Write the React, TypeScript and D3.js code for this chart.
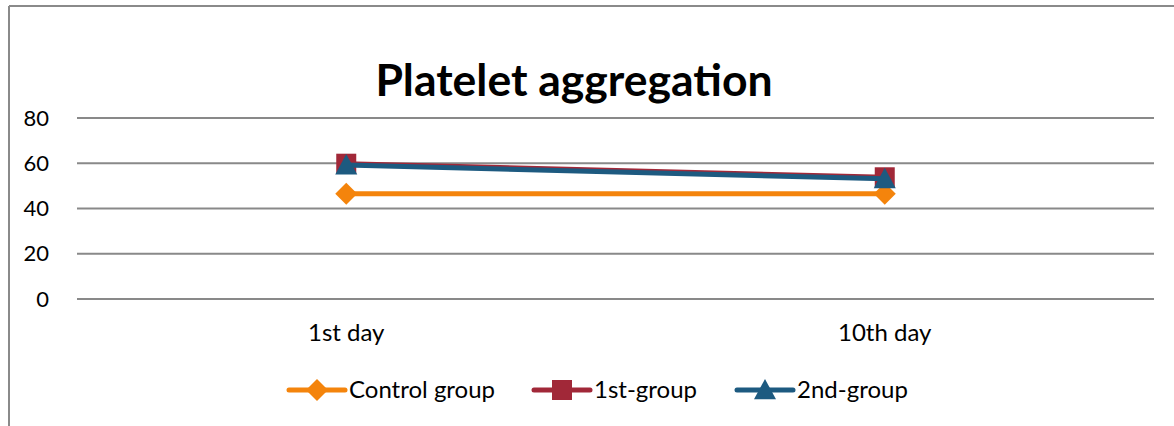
import React from "react";
import * as d3 from "d3";

const categories = ["1st day", "10th day"];
const controlGroup = [46.5, 46.5];
const group1 = [59.8, 53.8];
const group2 = [59.2, 53.1];
const yTicks = [0, 20, 40, 60, 80];
const seriesNames = ["Control group", "1st-group", "2nd-group"];

const W = 1174;
const H = 426;
const FONT = "Lato, 'Open Sans', sans-serif";
const colors = ["#F4840C", "#A12838", "#1D5A80"];

export default function App() {
  const x = d3.scaleBand<string>().domain(categories).range([77, 1154]);
  const y = d3.scaleLinear().domain([0, 80]).range([299, 118]);
  const series = [controlGroup, group1, group2];
  const line = d3
    .line<number>()
    .x((_, i) => (x(categories[i]) as number) + x.bandwidth() / 2)
    .y((d) => y(d));

  const marker = (k: number, cx: number, cy: number, key: string) => {
    if (k === 0) {
      const r = 11;
      return (
        <path
          key={key}
          d={`M${cx},${cy - r}L${cx + r},${cy}L${cx},${cy + r}L${cx - r},${cy}Z`}
          fill={colors[0]}
        />
      );
    }
    if (k === 1) {
      return <rect key={key} x={cx - 10} y={cy - 10} width={20} height={20} fill={colors[1]} />;
    }
    const s = 11;
    return (
      <path
        key={key}
        d={`M${cx},${cy - s}L${cx + s},${cy + s * 0.85}L${cx - s},${cy + s * 0.85}Z`}
        fill={colors[2]}
      />
    );
  };

  const legendItems = [
    { lx: 289, tx: 349 },
    { lx: 534, tx: 594 },
    { lx: 737, tx: 797 },
  ];
  const legendY = 390;

  return (
    <svg
      width={W}
      height={H}
      style={{ position: "absolute", left: 0, top: 0, background: "#fff" }}
    >
      <rect x={0} y={0} width={W} height={H} fill="#fff" />
      <line x1={9} y1={6} x2={W} y2={6} stroke="#8a8a8a" strokeWidth={2} />
      <line x1={9} y1={6} x2={9} y2={H} stroke="#8a8a8a" strokeWidth={2} />

      <text
        x={574}
        y={96}
        textAnchor="middle"
        fontFamily={FONT}
        fontWeight="bold"
        fontSize={44.5}
        fill="#000"
      >
        Platelet aggregation
      </text>

      {yTicks.map((t) => (
        <g key={t}>
          <line x1={77} x2={1154} y1={y(t)} y2={y(t)} stroke="#898989" strokeWidth={2} />
          <text
            x={49}
            y={y(t)}
            dy="0.35em"
            textAnchor="end"
            fontFamily={FONT}
            fontSize={22}
            fill="#000"
          >
            {t}
          </text>
        </g>
      ))}

      {categories.map((c) => (
        <text
          key={c}
          x={(x(c) as number) + x.bandwidth() / 2}
          y={333}
          dy="0.35em"
          textAnchor="middle"
          fontFamily={FONT}
          fontSize={24}
          fill="#000"
        >
          {c}
        </text>
      ))}

      {series.map((s, k) => (
        <g key={k}>
          <path d={line(s) || ""} fill="none" stroke={colors[k]} strokeWidth={5} />
          {s.map((v, i) =>
            marker(k, (x(categories[i]) as number) + x.bandwidth() / 2, y(v), `${k}-${i}`)
          )}
        </g>
      ))}

      {seriesNames.map((n, k) => {
        const it = legendItems[k];
        return (
          <g key={n}>
            <line
              x1={it.lx}
              x2={it.lx + 56}
              y1={legendY}
              y2={legendY}
              stroke={colors[k]}
              strokeWidth={5}
              strokeLinecap="round"
            />
            {marker(k, it.lx + 28, legendY, `l${k}`)}
            <text
              x={it.tx}
              y={legendY}
              dy="0.35em"
              fontFamily={FONT}
              fontSize={24}
              fill="#000"
            >
              {n}
            </text>
          </g>
        );
      })}
    </svg>
  );
}
